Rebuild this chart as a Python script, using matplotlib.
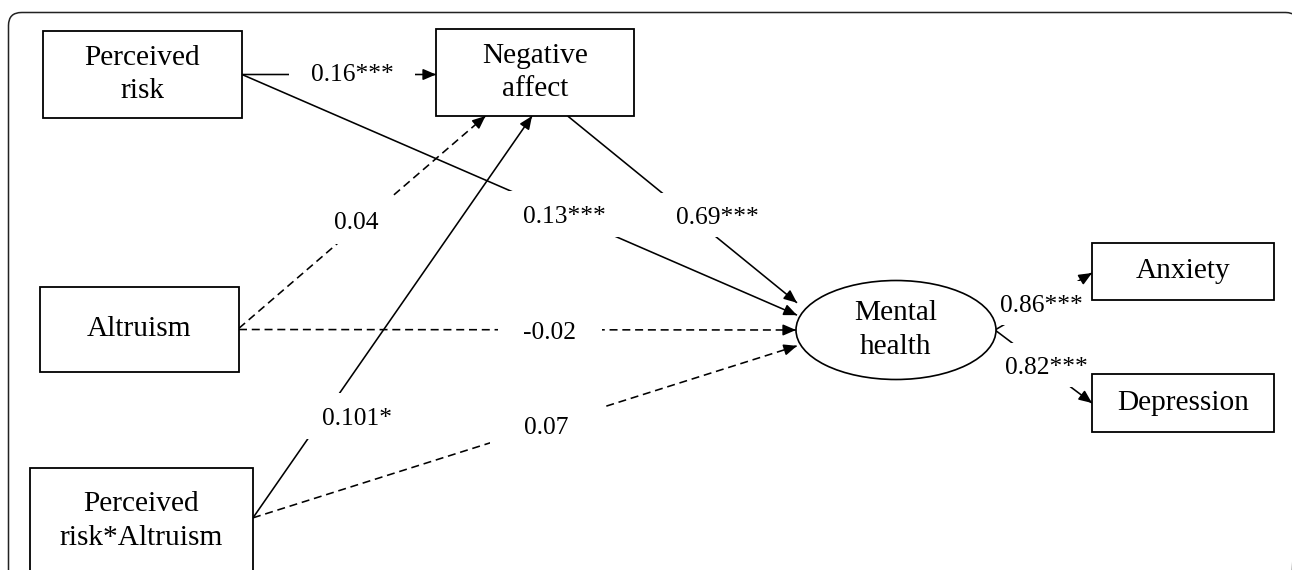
import numpy as np
import matplotlib.pyplot as plt
from matplotlib.patches import Rectangle, Ellipse, FancyBboxPatch

plt.rcParams['font.family'] = ['Liberation Serif', 'DejaVu Serif']

# variables in the model
node_keys = ['pr', 'na', 'alt', 'pra', 'mh', 'anx', 'dep']
node_labels = ['Perceived\nrisk', 'Negative\naffect', 'Altruism',
               'Perceived\nrisk*Altruism', 'Mental\nhealth', 'Anxiety', 'Depression']

# standardized path coefficients
path_from = ['pr', 'pr', 'na', 'alt', 'alt', 'pra', 'pra', 'mh', 'mh']
path_to = ['na', 'mh', 'mh', 'na', 'mh', 'na', 'mh', 'anx', 'dep']
path_coef = ['0.16***', '0.13***', '0.69***', '0.04', '-0.02', '0.101*', '0.07',
             '0.86***', '0.82***']
path_significant = [True, True, True, False, False, True, False, True, True]

# layout, in pixels of the 1292x570 canvas
node_center = {'pr': (142.5, 74.5), 'na': (535, 72.5), 'alt': (139.5, 329.5),
               'pra': (141.5, 521), 'mh': (896, 330), 'anx': (1183, 271),
               'dep': (1183, 403)}
node_size = {'pr': (199, 87), 'na': (198, 87), 'alt': (199, 85), 'pra': (223, 106),
             'mh': (200, 99), 'anx': (182, 57), 'dep': (182, 58)}

# where each path leaves / meets a node, as fractions of the half width / height
start_anchor = [(1, 0), (1, 0), (0.33, 1), (1, -0.03), (1, 0), (1, -0.06), (1, -0.06),
                (0.99, 0), (0.99, 0)]
end_anchor = [(-1, 0.046), (-0.99, -0.30), (-0.99, -0.55), (-0.5, 1), (-1, 0),
              (-0.03, 1), (-0.99, 0.32), (-1, 0.07), (-1, 0)]
label_t = [0.567, 0.58, 0.53, 0.51, 0.558, 0.254, 0.539, 0.474, 0.53]
label_shift = [(0, -3), (0, 0), (28, 0), (-8, 0), (0, 0), (33, 0), (0, 0), (0, 0), (0, -4)]
mask_size = [(126, 44), (120, 46), (114, 44), (100, 48), (104, 44), (114, 46),
             (112, 44), (92, 44), (88, 44)]


def anchor(key, f):
    cx, cy = node_center[key]
    w, h = node_size[key]
    return cx + f[0] * w / 2, cy + f[1] * h / 2


fig = plt.figure(figsize=(12.92, 5.70), dpi=100)
ax = fig.add_axes([0, 0, 1, 1])
ax.set_xlim(0, 1292)
ax.set_ylim(570, 0)
ax.axis('off')

# outer rounded frame, running off the bottom and right
ax.add_patch(FancyBboxPatch((8.5, 12.5), 1290, 620,
                            boxstyle='round,pad=0,rounding_size=13',
                            fc='none', ec='#222222', lw=1.1, zorder=0))

for i in range(len(path_from)):
    x0, y0 = anchor(path_from[i], start_anchor[i])
    x1, y1 = anchor(path_to[i], end_anchor[i])
    ls = '-' if path_significant[i] else (0, (5, 3))
    ax.plot([x0, x1], [y0, y1], color='k', lw=1.15, ls=ls, zorder=1,
            solid_capstyle='butt')
    d = np.hypot(x1 - x0, y1 - y0)
    ux, uy = (x1 - x0) / d, (y1 - y0) / d
    ax.annotate('', xy=(x1, y1), xytext=(x1 - 12 * ux, y1 - 12 * uy),
                arrowprops=dict(arrowstyle='-|>,head_length=0.65,head_width=0.28',
                                color='k', lw=1.15, shrinkA=0, shrinkB=0,
                                mutation_scale=12), zorder=3)

    # coefficient label sits on a white box that cuts the path
    lx = x0 + label_t[i] * (x1 - x0) + label_shift[i][0]
    ly = y0 + label_t[i] * (y1 - y0) + label_shift[i][1]
    mw, mh = mask_size[i]
    ax.add_patch(Rectangle((lx - mw / 2, ly - mh / 2), mw, mh, fc='white', ec='none',
                           zorder=2))
    ax.text(lx, ly + 9, path_coef[i], ha='center', va='baseline', fontsize=18.4,
            zorder=3)

for key, label in zip(node_keys, node_labels):
    cx, cy = node_center[key]
    w, h = node_size[key]
    if key == 'mh':
        ax.add_patch(Ellipse((cx, cy), w, h, fc='white', ec='k', lw=1.2, zorder=4))
    else:
        ax.add_patch(Rectangle((cx - w / 2, cy - h / 2), w, h, fc='white', ec='k',
                               lw=1.3, zorder=4))
    ax.text(cx, cy, label, ha='center', va='center', fontsize=21.2, linespacing=1.38,
            zorder=5)

fig.savefig('out.png', dpi=100)
